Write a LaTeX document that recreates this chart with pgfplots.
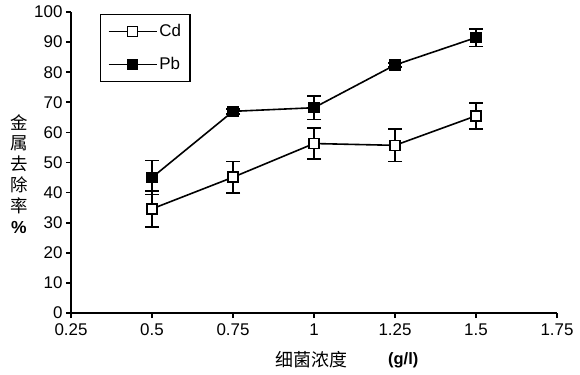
\documentclass[border=0pt]{standalone}
\usepackage{pgfplots}
\pgfplotsset{compat=1.18}
\usepackage{fontspec}
\setmainfont{Liberation Sans}
\newfontfamily\cjk{Noto Sans CJK SC}
\begin{document}
\begin{tikzpicture}[x=1bp,y=1bp]
\useasboundingbox (0,0) rectangle (580,374);
\begin{axis}[
  at={(71bp,61bp)}, anchor=south west,
  width=486bp, height=301bp, scale only axis,
  xmin=0.25, xmax=1.75, ymin=0, ymax=100,
  xtick={0.25,0.5,0.75,1,1.25,1.5,1.75},
  xticklabels={0.25,0.5,0.75,1,1.25,1.5,1.75},
  ytick={0,10,...,100},
  axis x line*=bottom, axis y line*=left,
  axis line style={line width=1.6bp, -},
  tick style={line width=1.6bp, black},
  tick align=outside, major tick length=5bp,
  tick label style={font=\fontsize{17}{19}\selectfont},
  xticklabel style={yshift=-2bp},
  /pgf/number format/assume math mode=true,
  clip=false,
  legend style={at={(0.06,0.993)}, anchor=north west, draw=black, line width=1.2bp,
    font=\fontsize{17}{19}\selectfont, row sep=15bp, inner xsep=7bp, inner ysep=8bp},
  legend cell align=left,
  legend image code/.code={\draw[mark repeat=2,mark phase=2] plot coordinates {(0bp,0bp)(24bp,0bp)(48bp,0bp)};},
  every axis plot/.append style={line width=1.6bp, black},
  error bars/error mark options={rotate=90, mark size=7bp, line width=1.6bp, black},
  error bars/error bar style={line width=1.6bp, black},
]
\addplot[mark=square*, mark options={fill=white, mark size=5bp, line width=1.5bp},
  error bars/.cd, y dir=both, y explicit]
  coordinates {
    (0.5,34.6) +- (0,6)
    (0.75,45.1) +- (0,5.2)
    (1.0,56.3) +- (0,5.2)
    (1.25,55.7) +- (0,5.4)
    (1.5,65.5) +- (0,4.3)
  };
\addlegendentry{Cd}
\addplot[mark=square*, mark options={fill=black, mark size=5bp, line width=1.5bp},
  error bars/.cd, y dir=both, y explicit]
  coordinates {
    (0.5,45.0) +- (0,5.6)
    (0.75,67.0) +- (0,0.8)
    (1.0,68.2) +- (0,3.9)
    (1.25,82.4) +- (0,0.6)
    (1.5,91.5) +- (0,2.9)
  };
\addlegendentry{Pb}
\end{axis}
\node[align=center, font=\fontsize{17.5}{21}\selectfont] at (19,200) {{\cjk 金}\\{\cjk 属}\\{\cjk 去}\\{\cjk 除}\\{\cjk 率}\\\textbf{\%}};
\node[font=\fontsize{18}{20}\selectfont, anchor=west, inner sep=0pt] at (275,14) {\cjk 细菌浓度};
\node[font=\fontsize{16.5}{20}\selectfont\bfseries, anchor=west, inner sep=0pt] at (388,14) {(g/l)};
\end{tikzpicture}
\end{document}
